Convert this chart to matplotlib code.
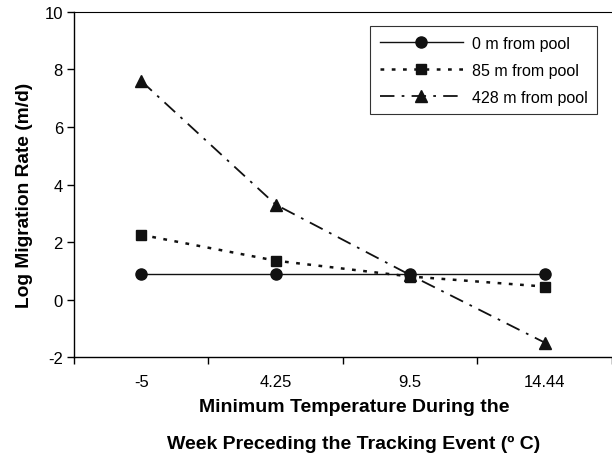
import numpy as np
import matplotlib.pyplot as plt

plt.rcParams['font.family'] = ['Liberation Sans', 'DejaVu Sans']
plt.rcParams['axes.unicode_minus'] = False

temps = ['-5', '4.25', '9.5', '14.44']
rate_0m = [0.9, 0.9, 0.9, 0.9]
rate_85m = [2.25, 1.35, 0.8, 0.45]
rate_428m = [7.6, 3.3, 0.85, -1.5]

fig = plt.figure(figsize=(6.12, 4.56), dpi=100)
ax = fig.add_axes([0.1209, 0.2149, 0.8791, 0.7566])

x = np.arange(len(temps))
ax.plot(x, rate_0m, color='#111111', lw=1.0, ls='-', marker='o', ms=8,
        label='0 m from pool')
ax.plot(x, rate_85m, color='#111111', lw=1.8, ls=(0, (1.5, 3)), marker='s', ms=7.5,
        label='85 m from pool')
ax.plot(x, rate_428m, color='#111111', lw=1.3, ls=(0, (8, 4, 1.5, 4)), marker='^', ms=8.5,
        label='428 m from pool')

ax.set_xlim(-0.5, 3.47)
ax.set_ylim(-2, 10)
ax.set_yticks(np.arange(-2, 11, 2))
ax.set_xticks(x)
ax.set_xticklabels(temps)
ax.set_xticks(np.arange(-0.5, 3.6, 1), minor=True)
ax.tick_params(axis='x', which='major', length=0, pad=12, labelsize=12)
ax.tick_params(axis='x', which='minor', length=5, direction='out', width=1)
ax.tick_params(axis='y', length=5, direction='out', width=1, labelsize=12, pad=3)
ax.spines['right'].set_visible(False)
for s in ['left', 'bottom', 'top']:
    ax.spines[s].set_linewidth(1.0)
ax.spines['top'].set_linewidth(0.8)

ax.set_ylabel('Log Migration Rate (m/d)', fontsize=13.8, fontweight='bold')
ax.yaxis.set_label_coords(-0.076, 0.472)
ax.set_xlabel('Minimum Temperature During the\nWeek Preceding the Tracking Event (º C)',
              fontsize=14, fontweight='bold', linespacing=2.5)
ax.xaxis.set_label_coords(0.52, -0.12)

leg = ax.legend(loc='upper right', bbox_to_anchor=(0.972, 0.959), fontsize=11.5,
                frameon=True, fancybox=False, edgecolor='black', handlelength=5.2,
                borderpad=0.6, labelspacing=0.75, handletextpad=0.55, borderaxespad=0)
leg.get_frame().set_linewidth(0.8)

fig.savefig('out.png', dpi=100)
